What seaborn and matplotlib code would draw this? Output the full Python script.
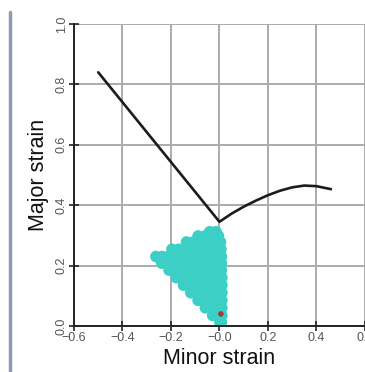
"""Forming limit diagram: FLC curve + strain cloud."""
import matplotlib
matplotlib.use("Agg")
import matplotlib.pyplot as plt
from matplotlib.lines import Line2D
import seaborn as sns
import pandas as pd

# FLC curve (minor, major)
flc_minor = [-0.50, 0.00, 0.05, 0.10, 0.15, 0.20, 0.25, 0.30, 0.35, 0.40, 0.46]
flc_major = [0.84, 0.345, 0.372, 0.395, 0.415, 0.433, 0.448, 0.459, 0.465, 0.463, 0.453]

# measured strain points, row by row (major level -> minor values)
cloud_rows = [
    (0.012, [0.002, 0.008]),
    (0.035, [-0.028, -0.008, 0.010]),
    (0.060, [-0.058, -0.036, -0.013, 0.010]),
    (0.085, [-0.088, -0.064, -0.040, -0.015, 0.010]),
    (0.110, [-0.118, -0.094, -0.068, -0.042, -0.016, 0.010]),
    (0.135, [-0.148, -0.122, -0.096, -0.070, -0.044, -0.018, 0.010]),
    (0.160, [-0.178, -0.152, -0.126, -0.100, -0.074, -0.046, -0.018, 0.010]),
    (0.185, [-0.208, -0.182, -0.156, -0.130, -0.104, -0.076, -0.048, -0.020, 0.008]),
    (0.208, [-0.238, -0.212, -0.186, -0.160, -0.132, -0.104, -0.076, -0.048, -0.020, 0.008]),
    (0.230, [-0.262, -0.236, -0.210, -0.182, -0.154, -0.126, -0.098, -0.070, -0.044, -0.018, 0.008]),
    (0.254, [-0.196, -0.168, -0.140, -0.110, -0.080, -0.052, -0.024, 0.006]),
    (0.278, [-0.136, -0.108, -0.080, -0.052, -0.024, 0.004]),
    (0.298, [-0.088, -0.060, -0.032, -0.004]),
    (0.312, [-0.040, -0.014]),
]
cloud = pd.DataFrame(
    [(mn, mj) for mj, mins in cloud_rows for mn in mins],
    columns=["minor", "major"],
)

# highlighted point
sel_minor = [0.006]
sel_major = [0.040]

x_ticks = [-0.6, -0.4, -0.2, 0.0, 0.2, 0.4, 0.6]
y_ticks = [0.0, 0.2, 0.4, 0.6, 0.8, 1.0]

sns.set_style("whitegrid")
plt.rcParams["font.family"] = ["Liberation Sans", "DejaVu Sans"]

fig = plt.figure(figsize=(3.65, 3.72), dpi=100)
ax = fig.add_axes([0.2027, 0.1237, 0.797, 0.8118])

sns.scatterplot(data=cloud, x="minor", y="major", color="#3ccfc6", s=70,
                edgecolor="none", linewidth=0, ax=ax, legend=False)
sns.scatterplot(x=sel_minor, y=sel_major, color="#a33a35", s=16,
                edgecolor="none", ax=ax, legend=False)
sns.lineplot(x=flc_minor, y=flc_major, sort=False, color="#1c1c1c",
             linewidth=1.9, ax=ax, legend=False)

ax.set_xlim(-0.6, 0.6)
ax.set_ylim(0.0, 1.0)
ax.set_xticks(x_ticks)
ax.set_yticks(y_ticks)
ax.set_xticklabels([f"{t:.1f}".replace("-", "\u2212") if t != 0 else "\u22120.0"
                    for t in x_ticks])
ax.set_yticklabels([f"{t:.1f}" for t in y_ticks], rotation=90, va="center")
ax.tick_params(direction="inout", length=7, width=1.2, color="#222222",
               labelsize=9, labelcolor="#555555", pad=1, left=True, bottom=True)
ax.grid(True, color="#ababab", linewidth=1.4)

for side in ["top", "right"]:
    ax.spines[side].set_visible(False)
for side in ["left", "bottom"]:
    ax.spines[side].set_color("#222222")
    ax.spines[side].set_linewidth(1.4)

ax.set_xlabel("Minor strain", fontsize=15.5, color="#111111", labelpad=3)
ax.set_ylabel("Major strain", fontsize=15.5, color="#111111", labelpad=5)

# side bar on the left edge
fig.add_artist(Line2D([0.027, 0.027], [0.0, 0.968], color="#8c9db2",
                      linewidth=2.5, transform=fig.transFigure))

fig.savefig("out.png", dpi=100)
plt.close(fig)
